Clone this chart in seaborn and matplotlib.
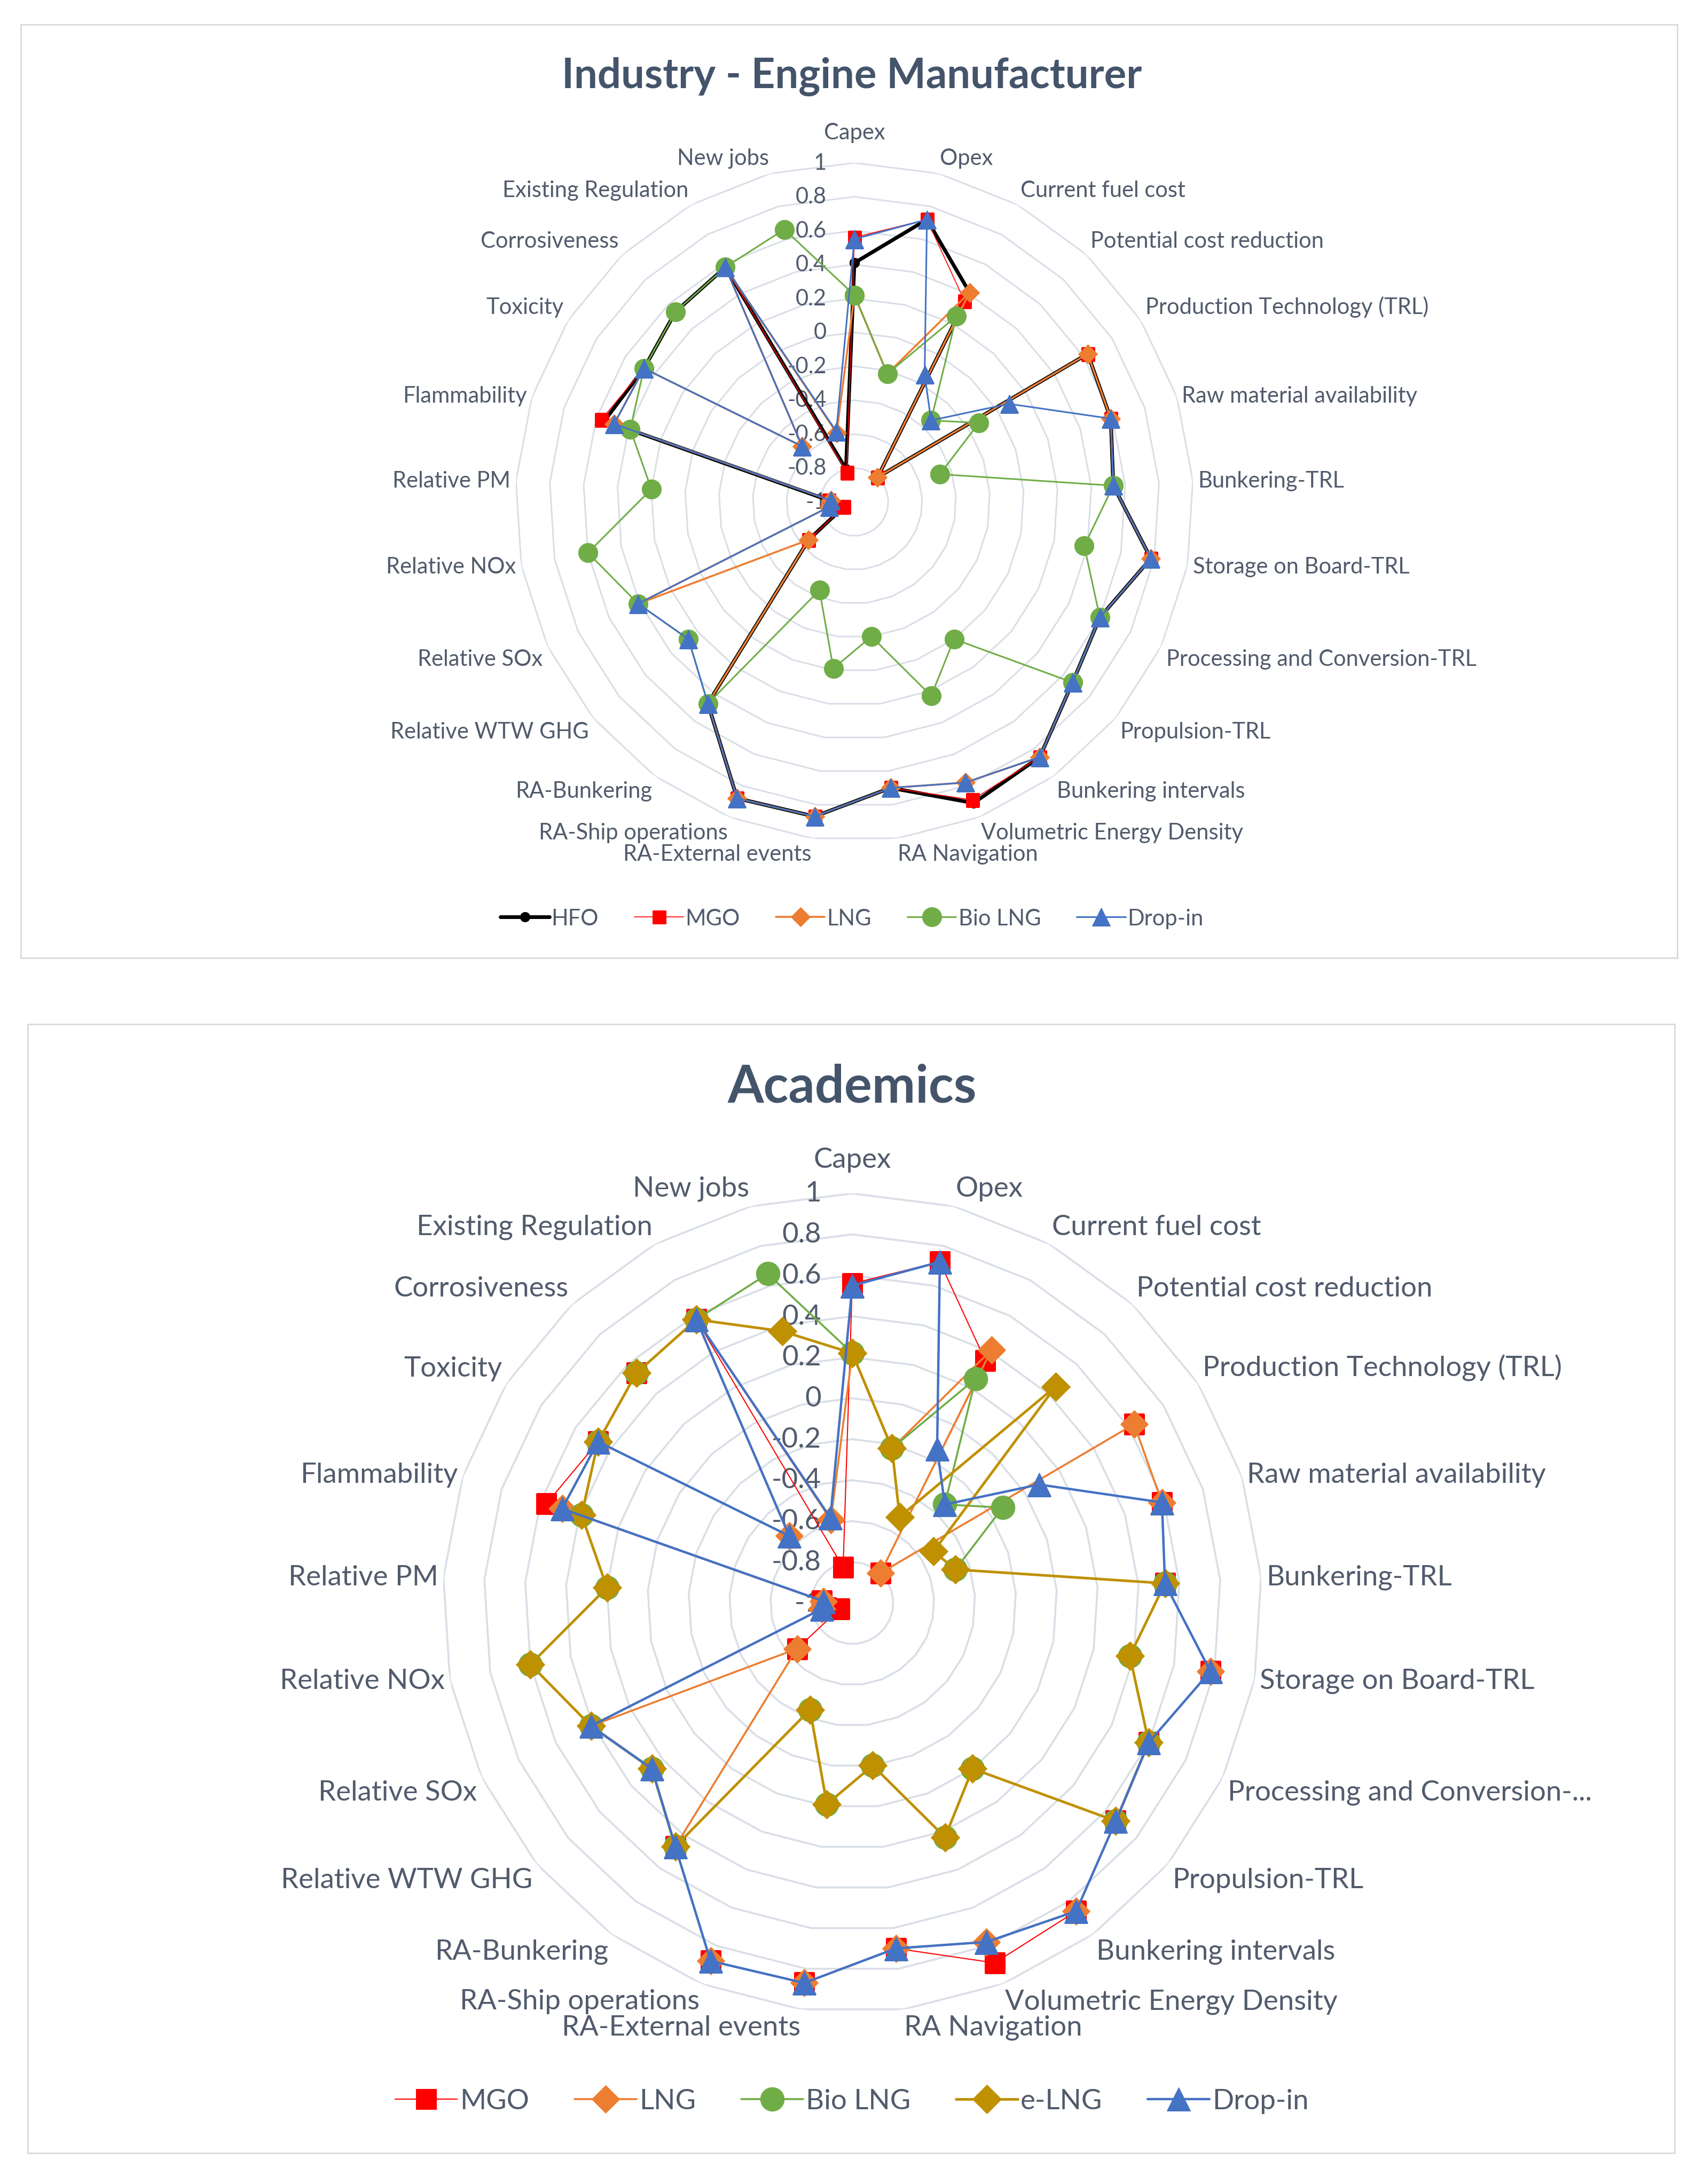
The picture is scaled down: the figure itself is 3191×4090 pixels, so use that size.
import numpy as np
import pandas as pd
import seaborn as sns
import matplotlib.pyplot as plt
from matplotlib.patches import Rectangle

# categories (clockwise from the top)
categories = ['Capex', 'Opex', 'Current fuel cost', 'Potential cost reduction',
              'Production Technology (TRL)', 'Raw material availability', 'Bunkering-TRL',
              'Storage on Board-TRL', 'Processing and Conversion-TRL', 'Propulsion-TRL',
              'Bunkering intervals', 'Volumetric Energy Density', 'RA Navigation',
              'RA-External events', 'RA-Ship operations', 'RA-Bunkering', 'Relative WTW GHG',
              'Relative SOx', 'Relative NOx', 'Relative PM', 'Flammability', 'Toxicity',
              'Corrosiveness', 'Existing Regulation', 'New jobs']
categories_acad = categories[:8] + ['Processing and Conversion-...'] + categories[9:]

# values
hfo = [0.41, 0.72, 0.41, -0.80, 0.63, 0.59, 0.53, 0.78, 0.60, 0.67, 0.86, 0.91, 0.70,
       0.87, 0.88, 0.47, -0.65, -0.93, -0.87, -0.85, 0.55, 0.47, 0.54, 0.58, -0.80]
mgo = [0.56, 0.72, 0.35, -0.80, 0.63, 0.59, 0.53, 0.78, 0.60, 0.67, 0.86, 0.89, 0.70,
       0.87, 0.88, 0.47, -0.65, -0.93, -0.87, -0.85, 0.57, 0.47, 0.54, 0.58, -0.82]
lng = [0.22, -0.22, 0.41, -0.80, 0.63, 0.59, 0.53, 0.78, 0.60, 0.67, 0.86, 0.78, 0.70,
       0.87, 0.88, 0.47, -0.65, 0.41, -0.85, -0.86, 0.49, 0.47, -0.55, 0.58, -0.58]
bio_lng = [0.22, -0.22, 0.25, -0.34, -0.13, -0.47, 0.53, 0.38, 0.60, 0.67, 0.00, 0.23, -0.20,
           -0.01, -0.44, 0.47, 0.27, 0.41, 0.60, 0.20, 0.39, 0.47, 0.54, 0.58, 0.66]
drop_in = [0.55, 0.72, -0.14, -0.34, 0.08, 0.59, 0.53, 0.78, 0.60, 0.67, 0.86, 0.78, 0.70,
           0.87, 0.88, 0.47, 0.27, 0.41, -0.85, -0.86, 0.49, 0.47, -0.55, 0.58, -0.57]
e_lng = [0.22, -0.22, -0.52, 0.45, -0.53, -0.47, 0.53, 0.38, 0.60, 0.67, 0.00, 0.23, -0.20,
         -0.01, -0.44, 0.47, 0.27, 0.41, 0.60, 0.20, 0.39, 0.47, 0.54, 0.58, 0.37]

ring_levels = [1, 0.8, 0.6, 0.4, 0.2, 0, -0.2, -0.4, -0.6, -0.8, -1]
ring_labels = ['1', '0.8', '0.6', '0.4', '0.2', '0', '-0.2', '-0.4', '-0.6', '-0.8', '-1']

W, H, DPI = 3191, 4091, 100
LABEL_C = '#515B6C'
TITLE_C = '#44546A'
RING_C = '#D9DEE7'

sns.set_theme(style='white')
plt.rcParams['font.family'] = ['Lato', 'DejaVu Sans']

fig = plt.figure(figsize=(W / DPI, H / DPI), dpi=DPI)

n = len(categories)
theta = np.linspace(0, 2 * np.pi, n, endpoint=False)
theta_c = np.append(theta, theta[0])


def radar(cx, cy, rad, series, labels, fs, ring_lw, tick_off, top_gap):
    ax = fig.add_axes([(cx - rad) / W, 1 - (cy + rad) / H, 2 * rad / W, 2 * rad / H],
                      projection='polar')
    ax.set_theta_zero_location('N')
    ax.set_theta_direction(-1)
    # polygon rings like Excel
    for lv in ring_levels[:-1]:
        ax.plot(theta_c, [lv] * (n + 1), color=RING_C, lw=ring_lw, zorder=0)
    for name, vals, col, mk, ms, lw in series:
        sns.lineplot(x=theta_c, y=np.append(vals, vals[0]), ax=ax, sort=False,
                     estimator=None, color=col, marker=mk, markersize=ms,
                     markeredgecolor=col, linewidth=lw, label=name)
    ax.set_ylim(-1, 1)
    ax.grid(False)
    ax.set_xticks([])
    ax.set_yticks([])
    ax.set_xlabel('')
    ax.set_ylabel('')
    ax.spines['polar'].set_visible(False)
    ax.set_facecolor('none')
    for lv, t in zip(ring_levels, ring_labels):
        ax.annotate(t, xy=(0, lv), xytext=(-tick_off, 0), textcoords='offset pixels',
                    ha='right', va='center', fontsize=fs, color=LABEL_C, zorder=1)
    for th, lab in zip(theta, labels):
        s, c = np.sin(th), np.cos(th)
        ha = 'center' if abs(s) < 0.05 else ('left' if s > 0 else 'right')
        va = 'center' if abs(c) < 0.35 else ('bottom' if c > 0 else 'top')
        gap = top_gap if abs(s) < 0.05 else 10
        ax.annotate(lab, xy=(th, 1), xytext=(gap * s, gap * c), textcoords='offset pixels',
                    ha=ha, va=va, fontsize=fs, color=LABEL_C)
    h, l = ax.get_legend_handles_labels()
    if ax.get_legend() is not None:
        ax.get_legend().remove()
    return ax, h, l


# ---- top panel: Industry - Engine Manufacturer
fig.patches.append(Rectangle((39 / W, 1 - 1795 / H), 3102 / W, 1748 / H, transform=fig.transFigure,
                             fill=False, edgecolor='#D9D9D9', lw=2))
fig.text(0.5, 1 - 143 / H, 'Industry - Engine Manufacturer', ha='center', va='center',
         fontsize=56, fontweight='bold', color=TITLE_C)
top_series = [('HFO', hfo, 'black', 'o', 13, 5),
              ('MGO', mgo, '#FF0000', 's', 18, 1.2),
              ('LNG', lng, '#ED7D31', 'D', 18, 2.6),
              ('Bio LNG', bio_lng, '#70AD47', 'o', 26, 2.2),
              ('Drop-in', drop_in, '#4472C4', '^', 24, 2.2)]
ax1, h1, l1 = radar(1600, 941, 635, top_series, categories, 30, 2.2, 52, 38)
fig.legend(h1, l1, loc='center', bbox_to_anchor=(0.5, 1 - 1721 / H), ncol=5, frameon=False,
           fontsize=30, labelcolor=LABEL_C, handlelength=2.2, columnspacing=1.6,
           handletextpad=0.1)

# ---- bottom panel: Academics
fig.patches.append(Rectangle((52 / W, 1 - 4033 / H), 3084 / W, 2114 / H, transform=fig.transFigure,
                             fill=False, edgecolor='#D9D9D9', lw=2))
fig.text(0.5, 1 - 2036 / H, 'Academics', ha='center', va='center',
         fontsize=70, fontweight='bold', color=TITLE_C)
bottom_series = [('MGO', mgo, '#FF0000', 's', 28, 1.5),
                 ('LNG', lng, '#ED7D31', 'D', 26, 2.6),
                 ('Bio LNG', bio_lng, '#70AD47', 'o', 32, 2.6),
                 ('e-LNG', e_lng, '#BF9000', 'D', 27, 3.5),
                 ('Drop-in', drop_in, '#4472C4', '^', 31, 3.2)]
ax2, h2, l2 = radar(1596, 3003, 767, bottom_series, categories_acad, 38, 2.6, 58, 40)
fig.legend(h2, l2, loc='center', bbox_to_anchor=(0.5, 1 - 3936 / H), ncol=5, frameon=False,
           fontsize=38, labelcolor=LABEL_C, handlelength=2.2, columnspacing=1.6,
           handletextpad=0.1)

fig.savefig('out.png', dpi=DPI, facecolor='white')
